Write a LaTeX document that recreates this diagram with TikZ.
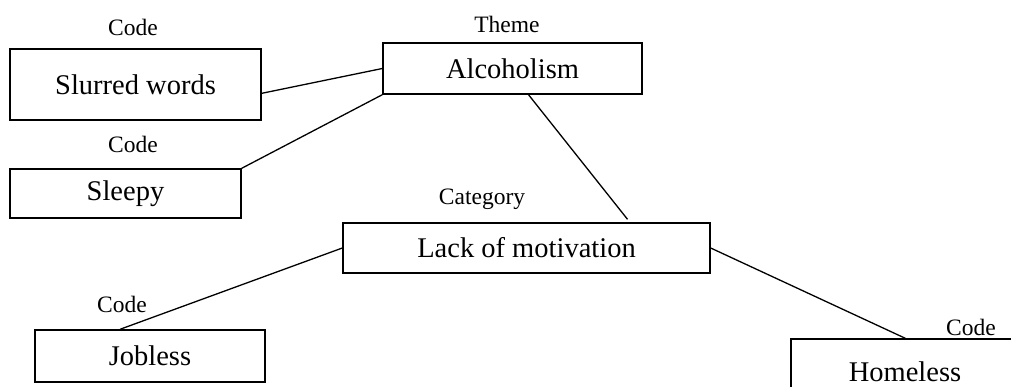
\documentclass[tikz,border=0pt]{standalone}
\usepackage{fontspec}
\setmainfont{Liberation Serif}
\usepackage{tikz}

\begin{document}
\begin{tikzpicture}[x=1pt,y=-1pt,
    box/.style={draw, line width=1.4pt, inner sep=0pt, font=\fontsize{28.5}{30}\selectfont},
    tag/.style={anchor=base, inner sep=0pt, font=\fontsize{23.5}{25}\selectfont},
    link/.style={line width=1.3pt}]
    \useasboundingbox (0,0) rectangle (1011,386);
    \clip (0,0) rectangle (1011,386);

    \node[box, minimum width=251pt, minimum height=71pt] (slurred) at (135.5,84.5) {Slurred words};
    \node[box, minimum width=231pt, minimum height=49pt] (sleepy) at (125.5,193.5) {Sleepy};
    \node[box, minimum width=259pt, minimum height=51pt] (alc) at (512.5,68.5) {Alcoholism};
    \node[box, minimum width=367pt, minimum height=50pt] (lack) at (526.5,248) {Lack of motivation};
    \node[box, minimum width=230pt, minimum height=52pt] (jobless) at (150,356) {Jobless};
    \node[box, minimum width=228pt, minimum height=66pt] (home) at (905,372) {Homeless};

    \node[tag] (codeA) at (133,35) {Code};
    \node[tag] (codeB) at (133,152) {Code};
    \node[tag] (theme) at (507,32) {Theme};
    \node[tag] (cat) at (482,204) {Category};
    \node[tag] (codeC) at (122,312) {Code};
    \node[tag] (codeD) at (971,335) {Code};

    \draw[link] (slurred.-4) -- (alc.west)
        (sleepy.north east) -- (alc.south west)
        ([xshift=16pt]alc.south) -- ([xshift=101pt,yshift=3pt]lack.north)
        (lack.west) -- ([xshift=-30pt]jobless.north)
        (lack.east) -- ([xshift=115pt]home.north west);
\end{tikzpicture}
\end{document}
